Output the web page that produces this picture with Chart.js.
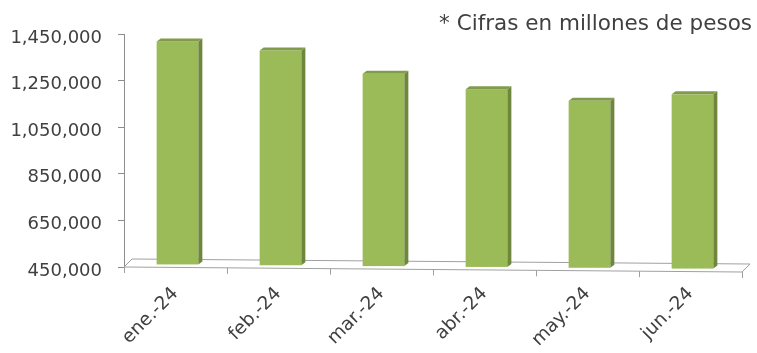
<!DOCTYPE html>
<html>
<head>
<meta charset="utf-8">
<script src="https://cdn.jsdelivr.net/npm/chart.js@4.4.1/dist/chart.umd.min.js"></script>
<style>
  html, body { margin: 0; padding: 0; background: #fff; }
</style>
</head>
<body>
<canvas id="chart" width="757" height="353"></canvas>
<script>
/* global Chart */
const months = ['ene.-24', 'feb.-24', 'mar.-24', 'abr.-24', 'may.-24', 'jun.-24'];
const amounts = [1418000, 1379000, 1279000, 1213000, 1163000, 1191000];
const yTicks = [450000, 650000, 850000, 1050000, 1250000, 1450000];
const note = '* Cifras en millones de pesos';

const FONT = "'DejaVu Sans', sans-serif";
const TEXT = '#404040';
const LINE = '#a0a0a0';
const FRONT = '#9bbb59';
const SIDE = '#6f873d';
const TOP = '#809c4a';

// depth of the floor and of each column, plus the downward tilt of the floor
const floorDepth = 8;
const floorTilt = 5;
const barDx = 4;
const barDy = 3;

function frontY(area, x) {
    return area.bottom + (x - area.left) / (area.right - area.left) * floorTilt;
}

const columns3d = {
    id: 'columns3d',
    beforeDatasetsDraw(chart) {
        const { ctx, chartArea: a } = chart;
        const yL = frontY(a, a.left);
        const yR = frontY(a, a.right);
        ctx.save();
        ctx.strokeStyle = LINE;
        ctx.lineWidth = 1;
        ctx.beginPath();
        ctx.moveTo(a.left, yL);
        ctx.lineTo(a.right, yR);
        ctx.lineTo(a.right + floorDepth, yR - floorDepth);
        ctx.lineTo(a.left + floorDepth, yL - floorDepth);
        ctx.closePath();
        ctx.stroke();

        // category tick marks hanging from the front edge
        const xs = chart.scales.x;
        ctx.beginPath();
        for (let i = 0; i <= months.length; i++) {
            const x = Math.round(xs.getPixelForValue(i - 0.5)) + 0.5;
            const y = frontY(a, x);
            ctx.moveTo(x, y);
            ctx.lineTo(x, y + 6);
        }
        ctx.stroke();
        ctx.restore();
    },
    beforeDatasetDraw(chart, args) {
        const { ctx, chartArea: a } = chart;
        const meta = args.meta;
        ctx.save();
        meta.data.forEach((bar) => {
            const cx = bar.x + 2;
            const half = bar.width / 2;
            const x1 = cx - half;
            const x2 = cx + half;
            const top = bar.y;
            const bottom = frontY(a, cx) - 3;

            ctx.fillStyle = FRONT;
            ctx.fillRect(x1, top, x2 - x1, bottom - top);

            ctx.fillStyle = SIDE;
            ctx.beginPath();
            ctx.moveTo(x2, top);
            ctx.lineTo(x2 + barDx, top - barDy);
            ctx.lineTo(x2 + barDx, bottom - barDy);
            ctx.lineTo(x2, bottom);
            ctx.closePath();
            ctx.fill();

            ctx.fillStyle = TOP;
            ctx.beginPath();
            ctx.moveTo(x1, top);
            ctx.lineTo(x1 + barDx, top - barDy);
            ctx.lineTo(x2 + barDx, top - barDy);
            ctx.lineTo(x2, top);
            ctx.closePath();
            ctx.fill();
        });
        ctx.restore();
        return false;
    },
    afterDraw(chart) {
        const { ctx } = chart;
        ctx.save();
        ctx.font = '21.5px ' + FONT;
        ctx.fillStyle = TEXT;
        ctx.textAlign = 'right';
        ctx.textBaseline = 'alphabetic';
        ctx.fillText(note, 752, 30);
        ctx.restore();
    }
};

new Chart(document.getElementById('chart'), {
    type: 'bar',
    data: {
        labels: months,
        datasets: [{
            data: amounts,
            backgroundColor: FRONT,
            barPercentage: 1,
            categoryPercentage: 0.405
        }]
    },
    options: {
        responsive: false,
        animation: false,
        layout: { padding: { top: 34, right: 15, left: 0, bottom: 0 } },
        plugins: {
            legend: { display: false },
            tooltip: { enabled: false }
        },
        scales: {
            x: {
                grid: { display: false },
                border: { display: false },
                afterFit(scale) { scale.height = 86; },
                ticks: {
                    color: TEXT,
                    font: { family: FONT, size: 18.5 },
                    minRotation: 45,
                    maxRotation: 45,
                    padding: 8
                }
            },
            y: {
                min: 450000,
                max: 1450000,
                afterFit(scale) { scale.width = 124; },
                afterBuildTicks(scale) {
                    scale.ticks = yTicks.map(v => ({ value: v }));
                },
                grid: {
                    drawOnChartArea: false,
                    drawTicks: true,
                    tickLength: 6,
                    color: '#8c8c8c'
                },
                border: { display: true, color: '#8c8c8c' },
                ticks: {
                    color: TEXT,
                    padding: 16,
                    labelOffset: 4,
                    font: { family: FONT, size: 18 },
                    callback: v => v.toLocaleString('en-US')
                }
            }
        }
    },
    plugins: [columns3d]
});
</script>
</body>
</html>
